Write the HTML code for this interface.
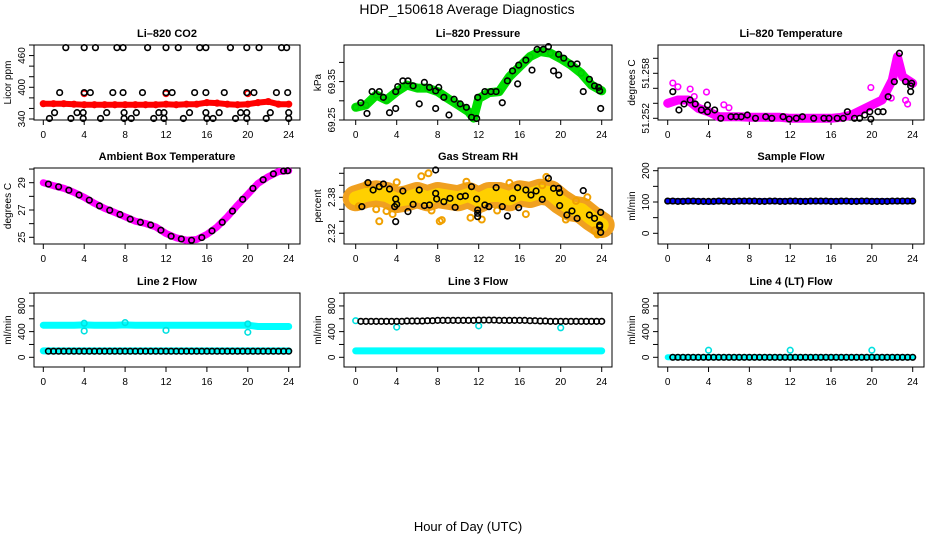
<!DOCTYPE html>
<html><head><meta charset="utf-8">
<style>
html,body{margin:0;padding:0;background:#fff;}
svg{display:block;font-family:"Liberation Sans",Arial,sans-serif;}
.t{font-size:11px;font-weight:bold;text-anchor:middle;}
.tk{font-size:10px;text-anchor:middle;}
</style></head>
<body>
<svg id="chart" width="936" height="540" viewBox="0 0 936 540">
<text x="467" y="14" font-size="14" text-anchor="middle">HDP_150618  Average Diagnostics</text>
<text x="468" y="531" font-size="13" text-anchor="middle">Hour of Day (UTC)</text>
</svg>
<script>
// ---- data ----
const hours = [0,1,2,3,4,5,6,7,8,9,10,11,12,13,14,15,16,17,18,19,20,21,22,23,24];
const xTicks = [0,4,8,12,16,20,24];

const co2BlackHours = [2.2,4.0,5.1,7.2,7.8,10.2,12.0,13.2,15.3,15.9,18.3,19.9,21.1,23.3,23.8, 1.6,4.0,4.6,6.8,7.8,9.7,12.0,12.6,14.8,15.9,17.7,19.9,20.6,22.8,23.9, 1.1,3.3,3.9,6.2,7.9,9.1,11.3,11.8,14.3,15.9,17.2,19.3,19.9,22.2,24.0, 0.6,2.7,3.9,5.6,7.9,8.6,10.8,11.8,13.7,16.0,16.6,18.8,19.9,21.8,24.0];
const co2BlackVals = [475,475,475,475,475,475,475,475,475,475,475,475,475,475,475, 390,390,390,390,390,390,390,390,390,390,390,390,390,390,390, 352,352,352,352,352,352,352,352,352,352,352,352,352,352,352, 341,341,341,341,341,341,341,341,341,341,341,341,341,341,341];
const co2RedVals = [369,369,369,368,367,367,367,367,367,367,367,367,368,367,368,368,371,370,368,367,368,371,373,368,368];
const co2RedOutHours = [4,12,20];
const co2RedOutVals = [388,388,388];

const presHours = [0,1,2,3,4,5,6,7,8,9,10,11,11.5,12,13,14,15,16,17,18,19,20,21,22,23,24];
const presGreen = [69.283,69.289,69.315,69.302,69.324,69.341,69.333,69.333,69.324,69.306,69.289,69.272,69.255,69.306,69.321,69.324,69.363,69.389,69.415,69.428,69.424,69.41,69.393,69.372,69.341,69.326];
const presBlackHours = [0.5,1.1,1.6,2.3,2.7,3.3,3.9,3.9,4.1,4.6,5.1,5.6,6.2,6.7,7.2,7.8,7.8,8.1,8.6,9.1,9.6,10.2,10.8,11.3,11.8,11.9,12.6,13.2,13.7,14.3,14.8,15.3,15.8,15.9,16.6,17.2,17.7,18.3,18.8,19.3,19.8,19.8,20.3,21.0,21.6,22.2,22.8,23.3,23.7,23.8,23.9];
const presBlackVals = [69.295,69.267,69.324,69.324,69.309,69.269,69.280,69.324,69.337,69.352,69.352,69.339,69.292,69.348,69.335,69.280,69.326,69.335,69.309,69.263,69.304,69.292,69.283,69.257,69.254,69.309,69.324,69.324,69.324,69.295,69.352,69.378,69.344,69.393,69.406,69.380,69.434,69.434,69.441,69.378,69.367,69.421,69.411,69.396,69.396,69.324,69.356,69.339,69.335,69.326,69.280];

const tempHours = [0,1,2,3,4,5,6,7,8,9,10,11,12,13,14,15,16,17,18,19,20,21,22,22.5,23,24];
const tempMagenta = [51.2520,51.25244,51.25244,51.25133,51.25088,51.25021,51.25021,51.25021,51.25013,51.25013,51.25013,51.25013,51.2500,51.2500,51.2500,51.2500,51.2500,51.25013,51.25044,51.25111,51.25177,51.25244,51.25511,51.25821,51.25555,51.25467];
const tempMagOutHours = [0.5,1.0,2.2,2.6,3.8,5.5,6.0,19.9,21.9,23.5,23.3];
const tempMagOutVals = [51.2547,51.2542,51.2539,51.2529,51.2535,51.2518,51.2514,51.2541,51.2527,51.2519,51.2524];
const tempBlackHours = [0.5,1.1,1.6,2.2,2.7,3.3,3.9,3.9,4.6,5.2,6.2,6.7,7.2,7.8,8.6,9.6,10.2,11.3,11.9,12.6,13.2,14.3,15.3,15.8,16.6,17.2,17.6,18.3,18.8,19.3,19.8,19.9,20.6,21.1,21.6,22.2,22.7,23.3,23.8,23.9,23.8];
const tempBlackVals = [51.25355,51.25111,51.25191,51.25244,51.25191,51.25111,51.25177,51.25088,51.25111,51.2500,51.25021,51.25021,51.25021,51.25044,51.2500,51.25021,51.2500,51.25021,51.2499,51.2500,51.25021,51.2500,51.2500,51.2500,51.2500,51.2500,51.25088,51.2500,51.2500,51.25044,51.25088,51.2499,51.25088,51.25088,51.25288,51.25488,51.25867,51.25488,51.25355,51.25467,51.25431];
const tempTickVals = [51.250,51.252,51.254,51.256,51.258];
const tempTickLabels = ["51.252","","","51.258",""];

const ambVals = [29.0,28.78,28.59,28.29,27.93,27.49,27.12,26.82,26.5,26.18,26.01,25.76,25.28,24.96,24.79,24.84,25.21,25.76,26.5,27.36,28.15,28.95,29.44,29.81,29.88];
const ambBlackHours = [0.5,1.5,2.5,3.5,4.5,5.5,6.5,7.5,8.5,9.5,10.5,11.5,12.5,13.5,14.5,15.5,16.5,17.5,18.5,19.5,20.5,21.5,22.5,23.5,23.9];
const ambBlackVals = [28.9,28.7,28.45,28.1,27.72,27.3,26.98,26.67,26.33,26.1,25.9,25.52,25.08,24.88,24.78,24.98,25.47,26.1,26.92,27.78,28.58,29.22,29.65,29.86,29.88];

const rhOrange = [2.3783,2.3838,2.3867,2.3838,2.3755,2.3783,2.3838,2.3783,2.3838,2.381,2.3783,2.3838,2.3755,2.3838,2.3838,2.3783,2.3867,2.3838,2.3893,2.3867,2.3727,2.3617,2.3588,2.345,2.3338];
const rhOutHours = [0.3,1.1,2.0,2.3,3.0,3.6,4.0,6.4,7.1,7.4,8.2,8.4,10.8,11.2,12.3,13.8,15.0,16.6,18.2,18.6,20.5,21.5,22.6,23.3,23.6,23.8];
const rhOutVals = [2.365,2.402,2.360,2.340,2.357,2.352,2.405,2.415,2.420,2.358,2.340,2.342,2.406,2.346,2.343,2.358,2.404,2.352,2.400,2.414,2.343,2.374,2.380,2.325,2.318,2.320];
const rhBlackHours = [0.6,1.2,1.7,2.3,2.7,3.3,3.9,3.8,4.0,3.9,4.6,5.1,5.6,6.2,6.7,7.2,7.8,7.8,7.9,8.6,9.2,9.7,10.2,10.7,11.3,11.8,11.9,11.9,11.9,12.6,13.0,13.7,14.3,14.8,15.3,15.8,15.9,16.6,17.1,17.6,18.2,18.8,19.3,19.8,19.9,19.9,20.6,21.1,21.6,22.2,22.8,23.3,23.8,23.8,23.9,23.9];
const rhBlackVals = [2.3644,2.4044,2.3922,2.3977,2.4022,2.3938,2.3772,2.3644,2.3683,2.3394,2.3905,2.3561,2.3683,2.3922,2.3661,2.3672,2.4255,2.3866,2.3772,2.3727,2.3783,2.3633,2.3811,2.3822,2.3977,2.3772,2.3588,2.3477,2.3533,2.3672,2.3644,2.3961,2.3644,2.3488,2.3783,2.3961,2.3627,2.3922,2.3838,2.3905,2.3766,2.4116,2.3949,2.3949,2.3877,2.3661,2.3505,2.3572,2.3449,2.3911,2.3505,2.3449,2.3338,2.3311,2.3216,2.3549];

const sampleBlue = [103,103,103,103,101,103,103,103,103,103,103,103,103,103,103,103,103,103,103,103,103,103,103,103,103];
const sampleBlack = [103,102,103,102,102,103,102,103,103,102,103,102,103,102,103,103,102,103,102,103,102,102,103,103,103];

const l2High = [500,500,500,500,505,500,500,500,505,500,500,500,500,500,500,500,500,500,500,500,500,480,480,480,480];
const l2Low = [100,100,100,100,100,100,100,100,100,100,100,100,100,100,100,100,100,100,100,100,100,100,100,100,100];
const l2Black = [95,95,95,95,95,95,95,95,95,95,95,95,95,95,95,95,95,95,95,95,95,95,95,95,95];
const l2OutHours = [4,4,8,12,20,20];
const l2OutVals = [530,410,540,420,520,390];

const l3Cyan = [100,100,100,100,100,100,100,100,100,100,100,100,100,100,100,100,100,100,100,100,100,100,100,100,100];
const l3Black = [560,560,560,560,560,565,565,570,575,575,575,575,580,580,575,575,575,570,565,560,560,560,560,560,560];
const l3OutHours = [0,4,12,20];
const l3OutVals = [570,470,490,460];

const l4Cyan = [0,0,0,0,0,0,0,0,0,0,0,0,0,0,0,0,0,0,0,0,0,0,0,0,0];
const l4Black = [0,0,0,0,0,0,0,0,0,0,0,0,0,0,0,0,0,0,0,0,0,0,0,0,0];
const l4OutHours = [4,12,20];
const l4OutVals = [110,110,110];

// ---- layout ----
const svg = document.getElementById('chart');
const NS = 'http://www.w3.org/2000/svg';
const COLS = [{l:34,r:300,x0:43.3,x24:288.7},{l:344,r:612,x0:355.7,x24:601.7},{l:658,r:924,x0:667.7,x24:912.7}];
const ROWS = [{t:45,b:120},{t:168,b:244},{t:293,b:367}];

function mk(tag, attrs, parent){
  const e = document.createElementNS(NS, tag);
  for (const k in attrs) e.setAttribute(k, attrs[k]);
  (parent||svg).appendChild(e);
  return e;
}

function panel(name, title, ylab, col, row, v1, p1, v2, p2, ticks, labels){
  const C = COLS[col], R = ROWS[row];
  const g = mk('g', {});
  
  
  const xs = h => C.x0 + (C.x24 - C.x0) * h / 24;
  const ys = v => p1 + (p2 - p1) * (v - v1) / (v2 - v1);
  const box = mk('rect', {x:C.l, y:R.t, width:C.r-C.l, height:R.b-R.t, fill:'none', stroke:'#000', 'stroke-width':1}, g);
  
  
  const tt = mk('text', {x:(C.l+C.r)/2, y:R.t-8, class:'t'}, g);
  tt.textContent = title;
  
  
  const xa = mk('g', {}, g);
  
  
  mk('line', {x1:xs(0), x2:xs(24), y1:R.b, y2:R.b, stroke:'#000'}, xa);
  xTicks.forEach(h => {
    mk('line', {x1:xs(h), x2:xs(h), y1:R.b, y2:R.b+5, stroke:'#000'}, xa);
    const t = mk('text', {x:xs(h), y:R.b+18, class:'tk'}, xa);
    t.textContent = h;
    
    
  });
  const ya = mk('g', {}, g);
  
  
  mk('line', {x1:C.l, x2:C.l, y1:ys(ticks[0]), y2:ys(ticks[ticks.length-1]), stroke:'#000'}, ya);
  ticks.forEach((v, i) => {
    const y = ys(v);
    mk('line', {x1:C.l-5, x2:C.l, y1:y, y2:y, stroke:'#000'}, ya);
    if (labels[i]) {
      const t = mk('text', {x:0, y:0, class:'tk', transform:'translate(' + (C.l-9) + ',' + y + ') rotate(-90)'}, ya);
      t.textContent = labels[i];
      
      
    }
  });
  const yl = mk('text', {x:0, y:0, class:'tk', transform:'translate(' + (C.l-23) + ',' + ((R.t+R.b)/2) + ') rotate(-90)'}, g);
  yl.textContent = ylab;
  
  
  const plot = mk('g', {}, g);
  
  
  return {xs, ys, plot};
}

function band(P, hs, vals, color, w, nm){
  const pts = hs.map((h,i) => P.xs(h).toFixed(1) + ',' + P.ys(vals[i]).toFixed(1)).join(' ');
  const pl = mk('polyline', {points:pts, fill:'none', stroke:color, 'stroke-width':w, 'stroke-linejoin':'round', 'stroke-linecap':'round'}, P.plot);
  
  
}
function pts(P, hs, vals, color, nm, r, sw){
  hs.forEach((h,i) => {
    const c = mk('circle', {cx:P.xs(h), cy:P.ys(vals[i]), r:r||2.8, fill:'none', stroke:color, 'stroke-width':sw||1.6}, P.plot);
    
    
  });
}

let P = panel('co2', 'Li\u2013820 CO2', 'Licor ppm', 0, 0, 340, 119, 480, 45, [340,360,380,400,420,440,460,480], ['340','','','400','','','460','']);
band(P, hours, co2RedVals, '#ff0000', 6, 'co2-red-band');
pts(P, hours, co2RedVals, '#ff0000', 'co2-red-point');
pts(P, co2RedOutHours, co2RedOutVals, '#ff0000', 'co2-red-point');
pts(P, co2BlackHours, co2BlackVals, '#000', 'co2-black-point');

P = panel('pressure', 'Li\u2013820 Pressure', 'kPa', 1, 0, 69.25, 120, 69.40, 62.4, [69.25,69.30,69.35,69.40], ['69.25','','69.35','']);
band(P, presHours, presGreen, '#00e000', 9, 'pressure-green-band');
pts(P, presHours, presGreen, '#00cc00', 'pressure-green-point');
pts(P, presBlackHours, presBlackVals, '#000', 'pressure-black-point');

P = panel('li820-temp', 'Li\u2013820 Temperature', 'degrees C', 2, 0, 51.250, 118.3, 51.258, 58.3, tempTickVals, tempTickLabels);
band(P, tempHours, tempMagenta, '#ff00ff', 9, 'li820-temp-magenta-band');
pts(P, tempMagOutHours, tempMagOutVals, '#ff00ff', 'li820-temp-magenta-point');
pts(P, tempBlackHours, tempBlackVals, '#000', 'li820-temp-black-point');

P = panel('ambient-temp', 'Ambient Box Temperature', 'degrees C', 0, 1, 25, 237.3, 29, 182.7, [25,26,27,28,29,30], ['25','','27','','29','']);
band(P, hours, ambVals, '#ff00ff', 7, 'ambient-magenta-band');
pts(P, ambBlackHours, ambBlackVals, '#000', 'ambient-black-point');

P = panel('gas-rh', 'Gas Stream RH', 'percent', 1, 1, 2.32, 233.3, 2.40, 185.3, [2.32,2.34,2.36,2.38,2.40,2.42], ['2.32','','','2.38','','']);
band(P, hours, rhOrange, '#f0a020', 26, 'rh-orange-band');
band(P, hours, rhOrange, '#ffd000', 14, 'rh-yellow-core');
pts(P, rhOutHours, rhOutVals, '#f0a000', 'rh-orange-point', 3, 2);
pts(P, rhBlackHours, rhBlackVals, '#000', 'rh-black-point');

P = panel('sample-flow', 'Sample Flow', 'ml/min', 2, 1, 0, 233.3, 200, 170.7, [0,50,100,150,200], ['0','','100','','200']);
band(P, hours, sampleBlue, '#0000ff', 6, 'sample-blue-band');
pts(P, hours, sampleBlack, '#000', 'sample-black-point');
pts(P, hours.map(h => h + 0.5).slice(0,24), sampleBlack.slice(0,24), '#000', 'sample-black-point');

const fT = [0,200,400,600,800,1000], fL = ['0','','400','','800',''];
P = panel('line2-flow', 'Line 2 Flow', 'ml/min', 0, 2, 0, 357.3, 1000, 293.1, fT, fL);
band(P, hours, l2High, '#00ffff', 7, 'line2-high-band');
band(P, hours, l2Low, '#00ffff', 7, 'line2-low-band');
pts(P, l2OutHours, l2OutVals, '#00e0e0', 'line2-cyan-point');
pts(P, hours.slice(1), l2Black.slice(1), '#000', 'line2-black-point');
pts(P, hours.map(h => h + 0.5).slice(0,24), l2Black.slice(0,24), '#000', 'line2-black-point');

P = panel('line3-flow', 'Line 3 Flow', 'ml/min', 1, 2, 0, 357.3, 1000, 293.1, fT, fL);
band(P, hours, l3Cyan, '#00ffff', 7, 'line3-cyan-band');
pts(P, l3OutHours, l3OutVals, '#00e0e0', 'line3-cyan-point');
pts(P, hours.slice(1), l3Black.slice(1), '#000', 'line3-black-point');
pts(P, hours.map(h => h + 0.5).slice(0,24), l3Black.slice(0,24), '#000', 'line3-black-point');

P = panel('line4-flow', 'Line 4 (LT) Flow', 'ml/min', 2, 2, 0, 357.3, 1000, 293.1, fT, fL);
band(P, hours, l4Cyan, '#00ffff', 6, 'line4-cyan-band');
pts(P, l4OutHours, l4OutVals, '#00e0e0', 'line4-cyan-point');
pts(P, hours.slice(1), l4Black.slice(1), '#000', 'line4-black-point');
pts(P, hours.map(h => h + 0.5).slice(0,24), l4Black.slice(0,24), '#000', 'line4-black-point');
</script>
</body></html>
